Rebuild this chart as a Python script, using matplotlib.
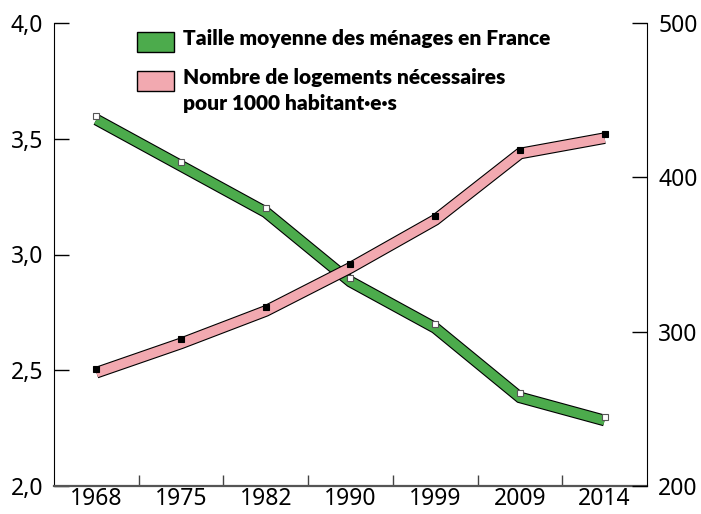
import matplotlib
matplotlib.use("Agg")
import matplotlib.pyplot as plt
import matplotlib.patheffects as pe
import matplotlib.transforms as mtransforms
from matplotlib.patches import Rectangle

years = ["1968", "1975", "1982", "1990", "1999", "2009", "2014"]
taille_menages = [3.6, 3.4, 3.2, 2.9, 2.7, 2.4, 2.3]
logements = [276, 295, 316, 344, 375, 418, 428]
left_ticks = [2.0, 2.5, 3.0, 3.5, 4.0]
left_labels = ["2,0", "2,5", "3,0", "3,5", "4,0"]
right_ticks = [200, 300, 400, 500]

label_green = "Taille moyenne des ménages en France"
label_pink = "Nombre de logements nécessaires\npour 1000 habitant·e·s"

GREEN = "#4cab4c"
PINK = "#f2a9b0"

fig = plt.figure(figsize=(7.01, 5.14), dpi=100)
ax = fig.add_axes([54/701, 1 - 486/514, (647-54)/701, (486-23)/514])
ax2 = ax.twinx()

x = list(range(len(years)))
tick_font = {"family": "Noto Sans", "size": 16.5}

def band(axis, vals, color, mfc, mec):
    off = mtransforms.offset_copy(axis.transData, fig=fig, x=0, y=-4.0, units="dots")
    axis.plot(x, vals, color=color, lw=6.8, solid_capstyle="butt", solid_joinstyle="miter",
              transform=off,
              path_effects=[pe.Stroke(linewidth=8.4, foreground="black"), pe.Normal()], zorder=2)
    axis.plot(x, vals, ls="none", marker="s", ms=4.5, mfc=mfc, mec=mec, mew=0.8, zorder=3)

band(ax, taille_menages, GREEN, "white", "#555555")
band(ax2, logements, PINK, "black", "black")

ax.set_xlim(-0.5, len(years) - 0.5)
ax.set_ylim(2.0, 4.0)
ax2.set_ylim(200, 500)

ax.set_xticks(x)
ax.set_xticklabels(years, fontdict=tick_font)
ax.set_xticks([i + 0.5 for i in range(len(years) - 1)], minor=True)
ax.tick_params(axis="x", which="major", length=0, pad=1)
ax.tick_params(axis="x", which="minor", direction="in", length=8, width=1, color="#444444")

ax.set_yticks(left_ticks)
ax.set_yticklabels(left_labels, fontdict=tick_font)
ax.tick_params(axis="y", direction="in", length=11, width=1, pad=8)

ax2.set_yticks(right_ticks)
ax2.set_yticklabels([str(v) for v in right_ticks], fontdict=tick_font)
ax2.tick_params(axis="y", direction="in", length=11, width=1, pad=8)

for a in (ax, ax2):
    a.spines["top"].set_visible(False)
    a.set_facecolor("none")
ax.spines["bottom"].set_color("#555555")
ax.spines["bottom"].set_linewidth(1.6)
ax2.spines["bottom"].set_visible(False)
ax.spines["right"].set_visible(False)
ax2.spines["left"].set_visible(False)

# legend
leg_font = {"family": "Lato", "weight": "heavy", "size": 15}
def legend_item(x0, y0, color, text):
    fig.patches.append(Rectangle((x0/701, 1 - (y0 + 20)/514), 37/701, 20/514,
                                 transform=fig.transFigure, facecolor=color,
                                 edgecolor="black", lw=1.0))
    fig.text(183/701, 1 - (y0 - 3)/514, text, ha="left", va="top",
             fontdict=leg_font, linespacing=1.45)

legend_item(137, 32, GREEN, label_green)
legend_item(137, 71, PINK, label_pink)

fig.savefig("out.png", dpi=100)
